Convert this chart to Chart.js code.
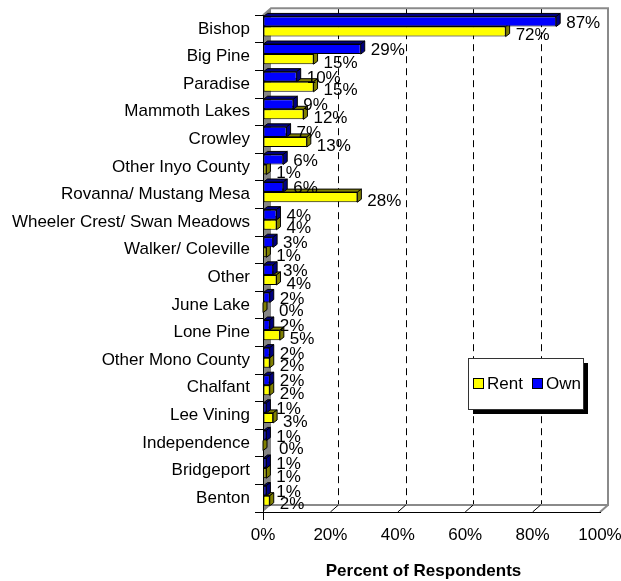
<!DOCTYPE html>
<html>
<head>
<meta charset="utf-8">
<script src="https://cdn.jsdelivr.net/npm/chart.js@4.4.1/dist/chart.umd.min.js"></script>
<style>
	html, body { margin: 0; padding: 0; background: #fff; }
	#wrap { width: 621px; height: 581px; }
</style>
</head>
<body>
<div id="wrap"><canvas id="myChart" width="621" height="581"></canvas></div>
<script>
const categories = [
	'Bishop', 'Big Pine', 'Paradise', 'Mammoth Lakes', 'Crowley', 'Other Inyo County',
	'Rovanna/ Mustang Mesa', 'Wheeler Crest/ Swan Meadows', 'Walker/ Coleville', 'Other',
	'June Lake', 'Lone Pine', 'Other Mono County', 'Chalfant', 'Lee Vining',
	'Independence', 'Bridgeport', 'Benton',
];
const ownValues = [87, 29, 10, 9, 7, 6, 6, 4, 3, 3, 2, 2, 2, 2, 1, 1, 1, 1];
const rentValues = [72, 15, 15, 12, 13, 1, 28, 4, 1, 4, 0, 5, 2, 2, 3, 0, 1, 2];
const xTicks = [0, 20, 40, 60, 80, 100];
const xTitle = 'Percent of Respondents';

const seriesNames = ['Own', 'Rent'];
const frontColors = ['#0000ff', '#ffff00'];
const sideColors = ['#000080', '#808000'];

// depth of the back wall and of each bar
const wallDx = 8, wallDy = -7;
const barDx = 4, barDy = -3;
const barLift = -2.5;

Chart.defaults.font.family = "'Liberation Sans', Arial, sans-serif";
Chart.defaults.font.size = 17;
Chart.defaults.color = '#000';

function poly(ctx, pts, fill, stroke) {
	ctx.beginPath();
	ctx.moveTo(pts[0][0], pts[0][1]);
	for (let i = 1; i < pts.length; i++) ctx.lineTo(pts[i][0], pts[i][1]);
	ctx.closePath();
	if (fill) {
		ctx.fillStyle = fill;
		ctx.fill();
	}
	if (stroke) {
		ctx.strokeStyle = stroke;
		ctx.stroke();
	}
}

const wallPlugin = {
	id: 'wall3d',
	beforeDraw(chart) {
		const ctx = chart.ctx;
		const a = chart.chartArea;
		const xs = chart.scales.x;
		ctx.save();
		ctx.lineWidth = 1;
		// back wall
		poly(ctx, [[a.left + wallDx, a.top + wallDy], [a.right + wallDx, a.top + wallDy],
			[a.right + wallDx, a.bottom + wallDy], [a.left + wallDx, a.bottom + wallDy]], '#fff', null);
		// left wall
		poly(ctx, [[a.left, a.top], [a.left + wallDx, a.top + wallDy],
			[a.left + wallDx, a.bottom + wallDy], [a.left, a.bottom]], '#858585', null);

		// dashed grid on the back wall
		ctx.strokeStyle = '#000';
		ctx.setLineDash([7, 5]);
		xTicks.slice(1, -1).forEach((v) => {
			const x = Math.round(xs.getPixelForValue(v) + wallDx) + 0.5;
			ctx.beginPath();
			ctx.moveTo(x, a.top + wallDy);
			ctx.lineTo(x, a.bottom + wallDy);
			ctx.stroke();
		});
		ctx.setLineDash([]);

		// edges of the box
		ctx.strokeStyle = '#8a8a8a';
		ctx.lineWidth = 2;
		ctx.beginPath();
		ctx.moveTo(a.left, a.top);
		ctx.lineTo(a.left + wallDx, a.top + wallDy);
		ctx.lineTo(a.right + wallDx, a.top + wallDy);
		ctx.lineTo(a.right + wallDx, a.bottom + wallDy);
		ctx.lineTo(a.left + wallDx, a.bottom + wallDy);
		ctx.moveTo(a.right + wallDx, a.bottom + wallDy);
		ctx.lineTo(a.right, a.bottom);
		ctx.stroke();

		// floor lines at each tick
		ctx.strokeStyle = '#000';
		ctx.lineWidth = 1;
		xTicks.slice(1, -1).forEach((v) => {
			const x = xs.getPixelForValue(v);
			ctx.beginPath();
			ctx.moveTo(x, a.bottom);
			ctx.lineTo(x + wallDx, a.bottom + wallDy);
			ctx.stroke();
		});
		// axis stub below the corner
		const x0 = Math.round(a.left) + 0.5;
		ctx.beginPath();
		ctx.moveTo(x0, a.bottom);
		ctx.lineTo(x0, a.bottom + 8);
		ctx.stroke();
		ctx.restore();
	},
	beforeDatasetsDraw(chart) {
		const ctx = chart.ctx;
		ctx.save();
		ctx.translate(0, barLift);
		ctx.lineWidth = 1;
		ctx.lineJoin = 'round';
		[1, 0].forEach((d) => {
			chart.getDatasetMeta(d).data.forEach((bar) => {
				const h = bar.height;
				const x0 = bar.base, x1 = bar.x;
				const yt = bar.y - h / 2, yb = bar.y + h / 2;
				poly(ctx, [[x0, yt], [x0 + barDx, yt + barDy], [x1 + barDx, yt + barDy], [x1, yt]], sideColors[d], '#000');
				poly(ctx, [[x1, yt], [x1 + barDx, yt + barDy], [x1 + barDx, yb + barDy], [x1, yb]], sideColors[d], '#000');
			});
		});
		// keep the lift for the front faces, undone after the datasets
	},
	afterDatasetsDraw(chart) {
		const ctx = chart.ctx;
		ctx.restore();
		ctx.save();
		ctx.font = "17px 'Liberation Sans', Arial, sans-serif";
		ctx.fillStyle = '#000';
		ctx.textAlign = 'left';
		ctx.textBaseline = 'middle';
		[0, 1].forEach((d) => {
			const vals = chart.data.datasets[d].data;
			chart.getDatasetMeta(d).data.forEach((bar, i) => {
				const gap = vals[i] == 0 ? 16 : 10;
				ctx.fillText(vals[i] + '%', bar.x + gap, bar.y + barLift + (d == 0 ? 1.5 : 4));
			});
		});
		ctx.restore();
	},
	afterDraw(chart) {
		const ctx = chart.ctx;
		const a = chart.chartArea;
		ctx.save();

		// axis title, set a little left of the plot centre as in the original
		ctx.font = "bold 17px 'Liberation Sans', Arial, sans-serif";
		ctx.fillStyle = '#000';
		ctx.textAlign = 'center';
		ctx.textBaseline = 'middle';
		ctx.fillText(xTitle, (a.left + a.right) / 2 - 8, 571);

		const lx = 468, ly = 358, lw = 115, lh = 51;
		ctx.fillStyle = '#000';
		ctx.fillRect(lx + 5, ly + 5, lw, lh);
		ctx.fillStyle = '#fff';
		ctx.fillRect(lx, ly, lw, lh);
		ctx.strokeStyle = '#333';
		ctx.lineWidth = 1;
		ctx.strokeRect(lx + 0.5, ly + 0.5, lw, lh);

		ctx.font = "17px 'Liberation Sans', Arial, sans-serif";
		ctx.textAlign = 'left';
		const items = [
			{ name: seriesNames[1], color: frontColors[1], x: 473 },
			{ name: seriesNames[0], color: frontColors[0], x: 532 },
		];
		items.forEach((it) => {
			ctx.fillStyle = it.color;
			ctx.fillRect(it.x, 378, 10, 10);
			ctx.strokeStyle = '#000';
			ctx.strokeRect(it.x + 0.5, 378.5, 10, 10);
			ctx.fillStyle = '#000';
			ctx.fillText(it.name, it.x + 14, 384);
		});
		ctx.restore();
	},
};

const ctx = document.getElementById('myChart');

const chart = new Chart(ctx, {
	type: 'bar',
	data: {
		labels: categories,
		datasets: [
			{
				label: seriesNames[0],
				data: ownValues,
				backgroundColor: frontColors[0],
				borderColor: '#000',
				borderWidth: 1,
				borderSkipped: false,
			},
			{
				label: seriesNames[1],
				data: rentValues,
				backgroundColor: frontColors[1],
				borderColor: '#000',
				borderWidth: 1,
				borderSkipped: false,
			},
		],
	},
	options: {
		indexAxis: 'y',
		responsive: false,
		animation: false,
		devicePixelRatio: 1,
		categoryPercentage: 0.73,
		barPercentage: 1,
		layout: {
			padding: { top: 12, right: 0, left: 0, bottom: 0 },
		},
		scales: {
			x: {
				min: 0,
				max: 100,
				afterFit: (scale) => {
					scale.height = 69;
					scale.paddingLeft = 0;
					scale.paddingRight = 21;
				},
				afterBuildTicks: (scale) => {
					scale.ticks = xTicks.map((v) => ({ value: v }));
				},
				grid: {
					drawOnChartArea: false,
					drawTicks: false,
				},
				border: {
					display: true,
					color: '#000',
					width: 1,
				},
				ticks: {
					padding: 13,
					color: '#000',
					callback: (v) => v + '%',
				},
			},
			y: {
				afterFit: (scale) => {
					scale.width = 263;
				},
				grid: {
					offset: true,
					drawOnChartArea: false,
					drawTicks: true,
					tickLength: 8,
					color: '#000',
				},
				border: {
					display: true,
					color: '#000',
					width: 1,
				},
				ticks: {
					padding: 5,
					color: '#000',
					autoSkip: false,
				},
			},
		},
		plugins: {
			legend: { display: false },
			tooltip: { enabled: false },
		},
		events: [],
	},
	plugins: [wallPlugin],
});
</script>
</body>
</html>
